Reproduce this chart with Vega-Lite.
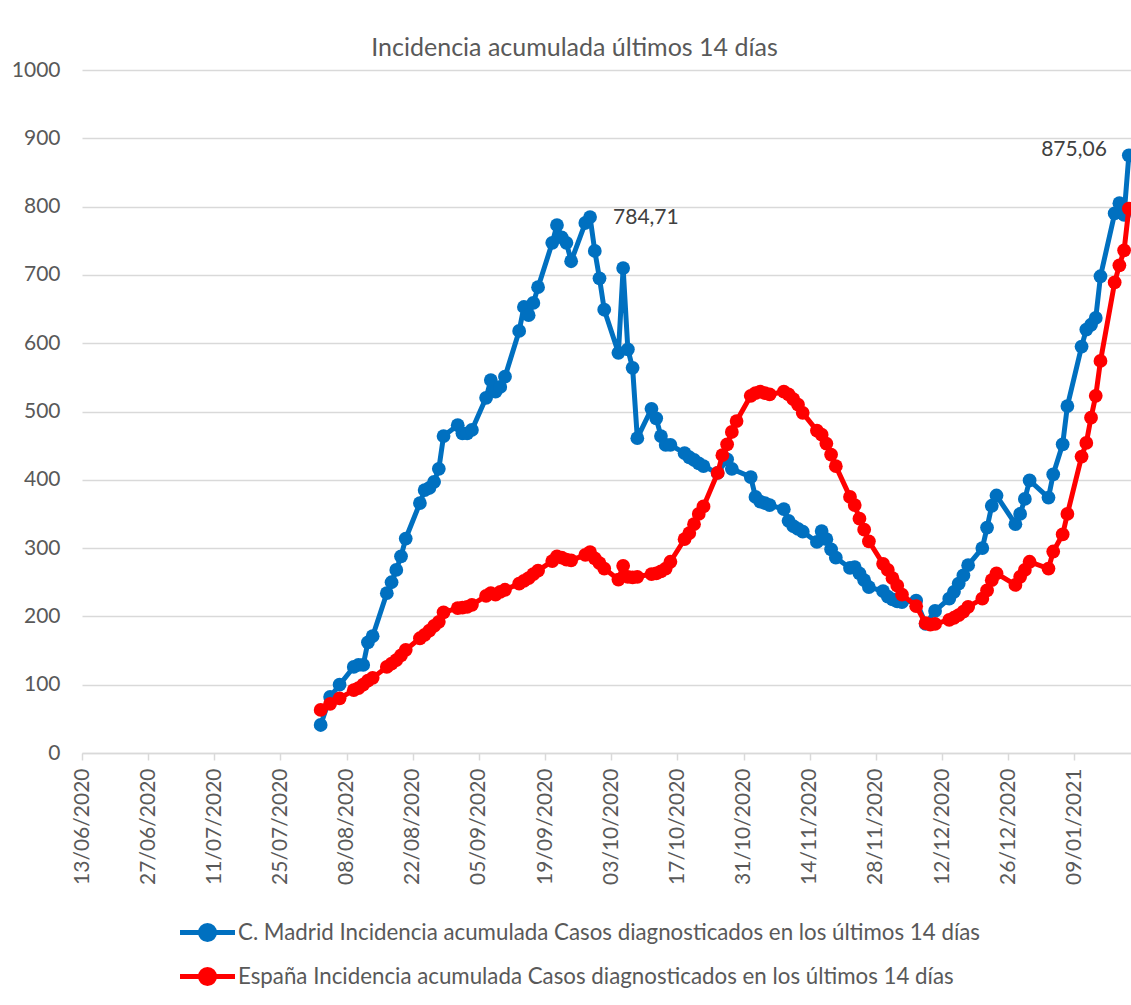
{
  "$schema": "https://vega.github.io/schema/vega-lite/v6.json",
  "width": 1049,
  "height": 683,
  "autosize": "none",
  "padding": {"left": 82, "top": 70, "right": 0, "bottom": 252},
  "background": "white",
  "config": {"view": {"stroke": null}, "font": "Lato"},
  "title": {
    "text": "Incidencia acumulada últimos 14 días",
    "font": "Lato", "fontSize": 25, "fontWeight": "normal", "color": "#595959",
    "anchor": "middle", "frame": "group", "dx": -32, "dy": 6
  },
  "encoding": {
    "x": {
      "field": "f", "type": "temporal",
      "scale": {"type": "utc", "domain": [
        {"year":2020,"month":6,"date":13,"hours":12,"utc":true},
        {"year":2021,"month":1,"date":21,"hours":11,"utc":true}
      ]},
      "axis": {
        "title": null, "grid": false,
        "values": [
          {"year":2020,"month":6,"date":13,"hours":12,"utc":true},
          {"year":2020,"month":6,"date":27,"hours":12,"utc":true},
          {"year":2020,"month":7,"date":11,"hours":12,"utc":true},
          {"year":2020,"month":7,"date":25,"hours":12,"utc":true},
          {"year":2020,"month":8,"date":8,"hours":12,"utc":true},
          {"year":2020,"month":8,"date":22,"hours":12,"utc":true},
          {"year":2020,"month":9,"date":5,"hours":12,"utc":true},
          {"year":2020,"month":9,"date":19,"hours":12,"utc":true},
          {"year":2020,"month":10,"date":3,"hours":12,"utc":true},
          {"year":2020,"month":10,"date":17,"hours":12,"utc":true},
          {"year":2020,"month":10,"date":31,"hours":12,"utc":true},
          {"year":2020,"month":11,"date":14,"hours":12,"utc":true},
          {"year":2020,"month":11,"date":28,"hours":12,"utc":true},
          {"year":2020,"month":12,"date":12,"hours":12,"utc":true},
          {"year":2020,"month":12,"date":26,"hours":12,"utc":true},
          {"year":2021,"month":1,"date":9,"hours":12,"utc":true}
        ],
        "labelExpr": "utcFormat(datum.value, '%d/%m/%Y')",
        "labelAngle": 270, "labelAlign": "right", "labelBaseline": "middle",
        "labelFont": "Lato", "labelFontSize": 21, "labelColor": "#595959",
        "labelPadding": 8, "labelOverlap": false, "labelFlush": false,
        "domainColor": "#d9d9d9", "domainWidth": 1.5,
        "ticks": true, "tickColor": "#d9d9d9", "tickWidth": 1.5, "tickSize": 7
      }
    },
    "y": {
      "field": "v", "type": "quantitative",
      "scale": {"domain": [0, 1000], "nice": false, "zero": true},
      "axis": {
        "title": null, "values": [0,100,200,300,400,500,600,700,800,900,1000], "format": "d",
        "domain": false, "ticks": false, "grid": true, "gridColor": "#d9d9d9", "gridWidth": 1.5,
        "labelFont": "Lato", "labelFontSize": 21, "labelColor": "#595959", "labelPadding": 22
      }
    }
  },
  "layer": [
    {
      "data": {"values": [
      {"f":"2020-08-03","s":"M","v":41},{"f":"2020-08-05","s":"M","v":82},{"f":"2020-08-07","s":"M","v":100},
      {"f":"2020-08-10","s":"M","v":126},{"f":"2020-08-11","s":"M","v":129},{"f":"2020-08-12","s":"M","v":129},{"f":"2020-08-13","s":"M","v":162},{"f":"2020-08-14","s":"M","v":171},
      {"f":"2020-08-17","s":"M","v":234},{"f":"2020-08-18","s":"M","v":250},{"f":"2020-08-19","s":"M","v":268},{"f":"2020-08-20","s":"M","v":288},{"f":"2020-08-21","s":"M","v":314},
      {"f":"2020-08-24","s":"M","v":366},{"f":"2020-08-25","s":"M","v":385},{"f":"2020-08-26","s":"M","v":388},{"f":"2020-08-27","s":"M","v":397},{"f":"2020-08-28","s":"M","v":416},{"f":"2020-08-29","s":"M","v":464},
      {"f":"2020-09-01","s":"M","v":480},{"f":"2020-09-02","s":"M","v":468},{"f":"2020-09-03","s":"M","v":468},{"f":"2020-09-04","s":"M","v":473},
      {"f":"2020-09-07","s":"M","v":520},{"f":"2020-09-08","s":"M","v":546},{"f":"2020-09-09","s":"M","v":529},{"f":"2020-09-10","s":"M","v":536},{"f":"2020-09-11","s":"M","v":551},
      {"f":"2020-09-14","s":"M","v":618},{"f":"2020-09-15","s":"M","v":653},{"f":"2020-09-16","s":"M","v":641},{"f":"2020-09-17","s":"M","v":659},{"f":"2020-09-18","s":"M","v":682},
      {"f":"2020-09-21","s":"M","v":747},{"f":"2020-09-22","s":"M","v":773},{"f":"2020-09-23","s":"M","v":755},{"f":"2020-09-24","s":"M","v":747},{"f":"2020-09-25","s":"M","v":720},
      {"f":"2020-09-28","s":"M","v":776},{"f":"2020-09-29","s":"M","v":784.71},{"f":"2020-09-30","s":"M","v":735},{"f":"2020-10-01","s":"M","v":695},{"f":"2020-10-02","s":"M","v":649},
      {"f":"2020-10-05","s":"M","v":586},{"f":"2020-10-06","s":"M","v":710},{"f":"2020-10-07","s":"M","v":591},{"f":"2020-10-08","s":"M","v":564},{"f":"2020-10-09","s":"M","v":461},
      {"f":"2020-10-12","s":"M","v":504},{"f":"2020-10-13","s":"M","v":490},{"f":"2020-10-14","s":"M","v":464},{"f":"2020-10-15","s":"M","v":451},{"f":"2020-10-16","s":"M","v":451},
      {"f":"2020-10-19","s":"M","v":439},{"f":"2020-10-20","s":"M","v":433},{"f":"2020-10-21","s":"M","v":429},{"f":"2020-10-22","s":"M","v":424},{"f":"2020-10-23","s":"M","v":420},
      {"f":"2020-10-26","s":"M","v":410},{"f":"2020-10-28","s":"M","v":430},{"f":"2020-10-29","s":"M","v":416},
      {"f":"2020-11-02","s":"M","v":404},{"f":"2020-11-03","s":"M","v":375},{"f":"2020-11-04","s":"M","v":368},{"f":"2020-11-05","s":"M","v":366},{"f":"2020-11-06","s":"M","v":363},
      {"f":"2020-11-09","s":"M","v":357},{"f":"2020-11-10","s":"M","v":340},{"f":"2020-11-11","s":"M","v":332},{"f":"2020-11-12","s":"M","v":328},{"f":"2020-11-13","s":"M","v":324},
      {"f":"2020-11-16","s":"M","v":309},{"f":"2020-11-17","s":"M","v":325},{"f":"2020-11-18","s":"M","v":313},{"f":"2020-11-19","s":"M","v":298},{"f":"2020-11-20","s":"M","v":286},
      {"f":"2020-11-23","s":"M","v":271},{"f":"2020-11-24","s":"M","v":272},{"f":"2020-11-25","s":"M","v":263},{"f":"2020-11-26","s":"M","v":253},{"f":"2020-11-27","s":"M","v":243},
      {"f":"2020-11-30","s":"M","v":237},{"f":"2020-12-01","s":"M","v":229},{"f":"2020-12-02","s":"M","v":225},{"f":"2020-12-03","s":"M","v":222},{"f":"2020-12-04","s":"M","v":221},
      {"f":"2020-12-07","s":"M","v":223},{"f":"2020-12-09","s":"M","v":189},{"f":"2020-12-11","s":"M","v":208},
      {"f":"2020-12-14","s":"M","v":226},{"f":"2020-12-15","s":"M","v":236},{"f":"2020-12-16","s":"M","v":248},{"f":"2020-12-17","s":"M","v":260},{"f":"2020-12-18","s":"M","v":275},
      {"f":"2020-12-21","s":"M","v":300},{"f":"2020-12-22","s":"M","v":330},{"f":"2020-12-23","s":"M","v":362},{"f":"2020-12-24","s":"M","v":377},
      {"f":"2020-12-28","s":"M","v":335},{"f":"2020-12-29","s":"M","v":350},{"f":"2020-12-30","s":"M","v":372},{"f":"2020-12-31","s":"M","v":399},
      {"f":"2021-01-04","s":"M","v":374},{"f":"2021-01-05","s":"M","v":408},{"f":"2021-01-07","s":"M","v":452},{"f":"2021-01-08","s":"M","v":508},
      {"f":"2021-01-11","s":"M","v":595},{"f":"2021-01-12","s":"M","v":620},{"f":"2021-01-13","s":"M","v":627},{"f":"2021-01-14","s":"M","v":637},{"f":"2021-01-15","s":"M","v":698},
      {"f":"2021-01-18","s":"M","v":790},{"f":"2021-01-19","s":"M","v":805},{"f":"2021-01-20","s":"M","v":788},{"f":"2021-01-21","s":"M","v":875.06}
      ]},
      "mark": {"type": "line", "strokeWidth": 5, "strokeJoin": "round", "strokeCap": "round",
               "point": {"filled": true, "size": 190, "opacity": 1}},
      "encoding": {
        "color": {
          "field": "s", "type": "nominal",
          "scale": {"domain": ["M", "E"], "range": ["#0070C0", "#FF0000"]},
          "legend": {
            "orient": "none", "legendX": 108, "legendY": 845, "direction": "vertical", "title": null,
            "symbolType": "M-1.833,0L1.833,0M0.467,0A0.467,0.467,0,1,1,-0.467,0A0.467,0.467,0,1,1,0.467,0Z",
            "symbolSize": 900, "symbolStrokeWidth": 5,
            "labelFont": "Lato", "labelFontSize": 22.3, "labelColor": "#595959", "labelLimit": 2000,
            "labelOffset": 13, "rowPadding": 9, "padding": 0,
            "labelExpr": "datum.label === 'M' ? 'C. Madrid Incidencia acumulada Casos diagnosticados en los últimos 14 días' : 'España Incidencia acumulada Casos diagnosticados en los últimos 14 días'",
            "encode": {"symbols": {"update": {
              "fill": {"scale": "color", "field": "value"},
              "stroke": {"scale": "color", "field": "value"},
              "opacity": {"value": 1}, "fillOpacity": {"value": 1}, "strokeOpacity": {"value": 1}
            }}}
          }
        }
      }
    },
    {
      "data": {"values": [
      {"f":"2020-08-03","s":"E","v":63},{"f":"2020-08-05","s":"E","v":72},{"f":"2020-08-07","s":"E","v":80},
      {"f":"2020-08-10","s":"E","v":92},{"f":"2020-08-11","s":"E","v":95},{"f":"2020-08-12","s":"E","v":100},{"f":"2020-08-13","s":"E","v":106},{"f":"2020-08-14","s":"E","v":110},
      {"f":"2020-08-17","s":"E","v":126},{"f":"2020-08-18","s":"E","v":131},{"f":"2020-08-19","s":"E","v":136},{"f":"2020-08-20","s":"E","v":143},{"f":"2020-08-21","s":"E","v":151},
      {"f":"2020-08-24","s":"E","v":168},{"f":"2020-08-25","s":"E","v":173},{"f":"2020-08-26","s":"E","v":179},{"f":"2020-08-27","s":"E","v":186},{"f":"2020-08-28","s":"E","v":192},{"f":"2020-08-29","s":"E","v":206},
      {"f":"2020-09-01","s":"E","v":212},{"f":"2020-09-02","s":"E","v":213},{"f":"2020-09-03","s":"E","v":214},{"f":"2020-09-04","s":"E","v":217},
      {"f":"2020-09-07","s":"E","v":230},{"f":"2020-09-08","s":"E","v":234},{"f":"2020-09-09","s":"E","v":232},{"f":"2020-09-10","s":"E","v":236},{"f":"2020-09-11","s":"E","v":239},
      {"f":"2020-09-14","s":"E","v":248},{"f":"2020-09-15","s":"E","v":252},{"f":"2020-09-16","s":"E","v":256},{"f":"2020-09-17","s":"E","v":262},{"f":"2020-09-18","s":"E","v":267},
      {"f":"2020-09-21","s":"E","v":281},{"f":"2020-09-22","s":"E","v":288},{"f":"2020-09-23","s":"E","v":286},{"f":"2020-09-24","s":"E","v":283},{"f":"2020-09-25","s":"E","v":282},
      {"f":"2020-09-28","s":"E","v":290},{"f":"2020-09-29","s":"E","v":294},{"f":"2020-09-30","s":"E","v":285},{"f":"2020-10-01","s":"E","v":278},{"f":"2020-10-02","s":"E","v":270},
      {"f":"2020-10-05","s":"E","v":254},{"f":"2020-10-06","s":"E","v":274},{"f":"2020-10-07","s":"E","v":258},{"f":"2020-10-08","s":"E","v":257},{"f":"2020-10-09","s":"E","v":258},
      {"f":"2020-10-12","s":"E","v":262},{"f":"2020-10-13","s":"E","v":263},{"f":"2020-10-14","s":"E","v":266},{"f":"2020-10-15","s":"E","v":270},{"f":"2020-10-16","s":"E","v":280},
      {"f":"2020-10-19","s":"E","v":313},{"f":"2020-10-20","s":"E","v":322},{"f":"2020-10-21","s":"E","v":335},{"f":"2020-10-22","s":"E","v":350},{"f":"2020-10-23","s":"E","v":361},
      {"f":"2020-10-26","s":"E","v":410},{"f":"2020-10-27","s":"E","v":436},{"f":"2020-10-28","s":"E","v":452},{"f":"2020-10-29","s":"E","v":470},{"f":"2020-10-30","s":"E","v":486},
      {"f":"2020-11-02","s":"E","v":523},{"f":"2020-11-03","s":"E","v":527},{"f":"2020-11-04","s":"E","v":529},{"f":"2020-11-05","s":"E","v":527},{"f":"2020-11-06","s":"E","v":525},
      {"f":"2020-11-09","s":"E","v":529},{"f":"2020-11-10","s":"E","v":525},{"f":"2020-11-11","s":"E","v":518},{"f":"2020-11-12","s":"E","v":510},{"f":"2020-11-13","s":"E","v":498},
      {"f":"2020-11-16","s":"E","v":472},{"f":"2020-11-17","s":"E","v":466},{"f":"2020-11-18","s":"E","v":453},{"f":"2020-11-19","s":"E","v":437},{"f":"2020-11-20","s":"E","v":420},
      {"f":"2020-11-23","s":"E","v":375},{"f":"2020-11-24","s":"E","v":363},{"f":"2020-11-25","s":"E","v":343},{"f":"2020-11-26","s":"E","v":327},{"f":"2020-11-27","s":"E","v":310},
      {"f":"2020-11-30","s":"E","v":277},{"f":"2020-12-01","s":"E","v":268},{"f":"2020-12-02","s":"E","v":256},{"f":"2020-12-03","s":"E","v":245},{"f":"2020-12-04","s":"E","v":232},
      {"f":"2020-12-07","s":"E","v":215},{"f":"2020-12-09","s":"E","v":190},{"f":"2020-12-10","s":"E","v":188},{"f":"2020-12-11","s":"E","v":189},
      {"f":"2020-12-14","s":"E","v":195},{"f":"2020-12-15","s":"E","v":198},{"f":"2020-12-16","s":"E","v":202},{"f":"2020-12-17","s":"E","v":207},{"f":"2020-12-18","s":"E","v":214},
      {"f":"2020-12-21","s":"E","v":226},{"f":"2020-12-22","s":"E","v":238},{"f":"2020-12-23","s":"E","v":253},{"f":"2020-12-24","s":"E","v":263},
      {"f":"2020-12-28","s":"E","v":246},{"f":"2020-12-29","s":"E","v":258},{"f":"2020-12-30","s":"E","v":268},{"f":"2020-12-31","s":"E","v":280},
      {"f":"2021-01-04","s":"E","v":270},{"f":"2021-01-05","s":"E","v":295},{"f":"2021-01-07","s":"E","v":320},{"f":"2021-01-08","s":"E","v":350},
      {"f":"2021-01-11","s":"E","v":434},{"f":"2021-01-12","s":"E","v":454},{"f":"2021-01-13","s":"E","v":491},{"f":"2021-01-14","s":"E","v":523},{"f":"2021-01-15","s":"E","v":574},
      {"f":"2021-01-18","s":"E","v":689},{"f":"2021-01-19","s":"E","v":714},{"f":"2021-01-20","s":"E","v":736},{"f":"2021-01-21","s":"E","v":797}
      ]},
      "mark": {"type": "line", "strokeWidth": 5, "strokeJoin": "round", "strokeCap": "round",
               "point": {"filled": true, "size": 190, "opacity": 1}},
      "encoding": {
        "color": {
          "field": "s", "type": "nominal",
          "scale": {"domain": ["M", "E"], "range": ["#0070C0", "#FF0000"]},
          "legend": {
            "orient": "none", "legendX": 108, "legendY": 845, "direction": "vertical", "title": null,
            "symbolType": "M-1.833,0L1.833,0M0.467,0A0.467,0.467,0,1,1,-0.467,0A0.467,0.467,0,1,1,0.467,0Z",
            "symbolSize": 900, "symbolStrokeWidth": 5,
            "labelFont": "Lato", "labelFontSize": 22.3, "labelColor": "#595959", "labelLimit": 2000,
            "labelOffset": 13, "rowPadding": 9, "padding": 0,
            "labelExpr": "datum.label === 'M' ? 'C. Madrid Incidencia acumulada Casos diagnosticados en los últimos 14 días' : 'España Incidencia acumulada Casos diagnosticados en los últimos 14 días'",
            "encode": {"symbols": {"update": {
              "fill": {"scale": "color", "field": "value"},
              "stroke": {"scale": "color", "field": "value"},
              "opacity": {"value": 1}, "fillOpacity": {"value": 1}, "strokeOpacity": {"value": 1}
            }}}
          }
        }
      }
    },
    {
      "data": {"values": [{"f":"2020-09-29","v":784.71,"t":"784,71"}]},
      "mark": {"type": "text", "align": "left", "baseline": "middle", "dx": 23, "dy": 1,
               "font": "Lato", "fontSize": 21, "color": "#404040"},
      "encoding": {"text": {"field": "t", "type": "nominal"}}
    },
    {
      "data": {"values": [{"f":"2021-01-21","v":875.06,"t":"875,06"}]},
      "mark": {"type": "text", "align": "right", "baseline": "middle", "dx": -22, "dy": -5,
               "font": "Lato", "fontSize": 21, "color": "#404040"},
      "encoding": {"text": {"field": "t", "type": "nominal"}}
    }
  ]
}
